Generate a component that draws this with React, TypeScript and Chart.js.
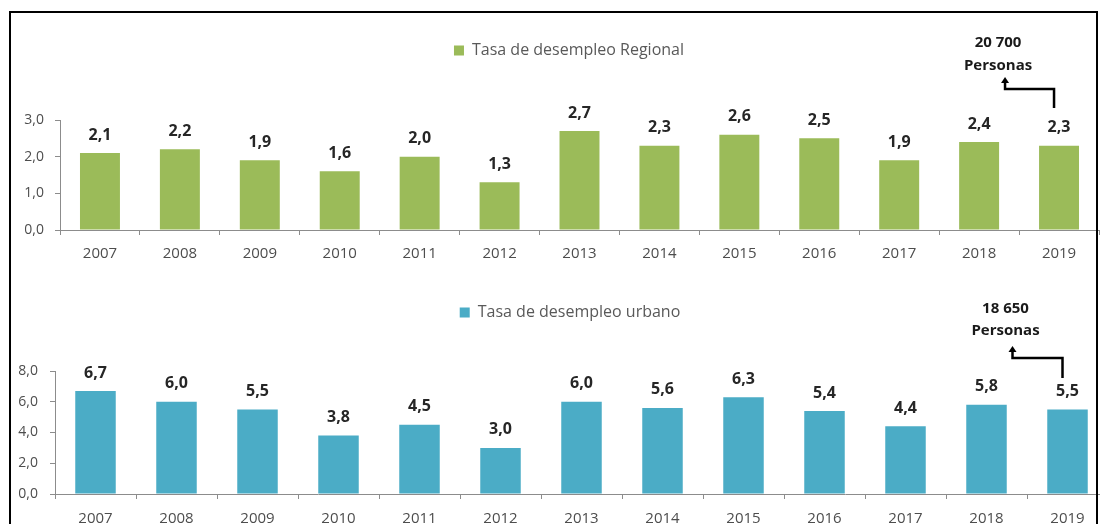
import React, { useEffect, useRef } from "react";
import { Chart, registerables } from "chart.js";

Chart.register(...registerables);

const years = ["2007", "2008", "2009", "2010", "2011", "2012", "2013", "2014", "2015", "2016", "2017", "2018", "2019"];
const regionalRate = [2.1, 2.2, 1.9, 1.6, 2.0, 1.3, 2.7, 2.3, 2.6, 2.5, 1.9, 2.4, 2.3];
const urbanRate = [6.7, 6.0, 5.5, 3.8, 4.5, 3.0, 6.0, 5.6, 6.3, 5.4, 4.4, 5.8, 5.5];
const regionalLabel = "Tasa de desempleo Regional";
const urbanLabel = "Tasa de desempleo urbano";
const regionalNote = ["20 700", "Personas"];
const urbanNote = ["18 650", "Personas"];
const regionalAxis = { max: 3, step: 1 };
const urbanAxis = { max: 8, step: 2 };

const FONT = "'Open Sans', sans-serif";
const fmt = (v: number) => v.toFixed(1).replace(".", ",");

const valueLabels = {
  id: "valueLabels",
  afterDatasetsDraw(chart: any) {
    const { ctx } = chart;
    const meta = chart.getDatasetMeta(0);
    const data = chart.data.datasets[0].data as number[];
    ctx.save();
    ctx.font = `bold 16px ${FONT}`;
    ctx.fillStyle = "#262626";
    ctx.textAlign = "center";
    ctx.textBaseline = "middle";
    meta.data.forEach((bar: any, i: number) => {
      ctx.fillText(fmt(data[i]), bar.x, bar.y - 18);
    });
    ctx.restore();
  },
};

type NoteGeom = {
  textDx: number;
  textY: number[];
  stemDx: number;
  bottom: number;
  elbow: number;
  leftDx: number;
  tip: number;
};

function makeNote(lines: string[], g: NoteGeom) {
  return {
    id: "note",
    afterDraw(chart: any) {
      const { ctx, chartArea } = chart;
      const meta = chart.getDatasetMeta(0);
      const last = meta.data[meta.data.length - 1];
      const x = last.x;
      const t = chartArea.top;
      ctx.save();
      ctx.font = `bold 15px ${FONT}`;
      ctx.fillStyle = "#1a1a1a";
      ctx.textAlign = "center";
      ctx.textBaseline = "middle";
      lines.forEach((s, i) => ctx.fillText(s, x + g.textDx, t + g.textY[i]));
      ctx.strokeStyle = "#000";
      ctx.lineWidth = 2.5;
      ctx.beginPath();
      ctx.moveTo(x + g.stemDx, t + g.bottom);
      ctx.lineTo(x + g.stemDx, t + g.elbow);
      ctx.lineTo(x + g.leftDx, t + g.elbow);
      ctx.lineTo(x + g.leftDx, t + g.tip + 5);
      ctx.stroke();
      ctx.fillStyle = "#000";
      ctx.beginPath();
      ctx.moveTo(x + g.leftDx, t + g.tip);
      ctx.lineTo(x + g.leftDx - 4, t + g.tip + 6);
      ctx.lineTo(x + g.leftDx + 4, t + g.tip + 6);
      ctx.closePath();
      ctx.fill();
      ctx.restore();
    },
  };
}

type PanelCfg = {
  values: number[];
  label: string;
  color: string;
  axis: { max: number; step: number };
  padTop: number;
  spacer: number;
  rightSpacer: number;
  yWidth: number;
  xHeight: number;
  yPad: number;
  xPad: number;
  note: any;
};

function buildChart(canvas: HTMLCanvasElement, c: PanelCfg) {
  const axisColor = "#8c8c8c";
  return new Chart(canvas, {
    type: "bar",
    data: {
      labels: years,
      datasets: [
        {
          label: c.label,
          data: c.values,
          backgroundColor: c.color,
          borderWidth: 0,
          barPercentage: 0.5,
          categoryPercentage: 1,
        },
      ],
    },
    options: {
      responsive: false,
      animation: false,
      events: [],
      layout: { padding: { top: c.padTop, left: 0, right: 0, bottom: 0 } },
      plugins: {
        legend: {
          display: true,
          position: "top",
          weight: 1000,
          labels: {
            boxWidth: 10,
            boxHeight: 10,
            padding: 10,
            color: "#595959",
            font: { family: FONT, size: 16 },
          },
        } as any,
        title: {
          display: true,
          text: "",
          weight: 500,
          font: { size: 1, lineHeight: 1 },
          padding: { top: 0, bottom: c.spacer - 1 },
        } as any,
        subtitle: {
          display: true,
          text: "",
          position: "right",
          fullSize: false,
          font: { size: 1, lineHeight: 1 },
          padding: { top: 0, bottom: c.rightSpacer - 1 },
        } as any,
        tooltip: { enabled: false },
      },
      scales: {
        x: {
          offset: true,
          grid: {
            display: true,
            drawOnChartArea: false,
            drawTicks: true,
            tickLength: 5,
            color: axisColor,
            offset: true,
          },
          border: { display: true, color: axisColor, width: 1 },
          ticks: {
            color: "#4d4d4d",
            padding: c.xPad,
            font: { family: FONT, size: 15 },
            maxRotation: 0,
            autoSkip: false,
          },
          afterFit: (s: any) => {
            s.height = c.xHeight;
          },
        },
        y: {
          min: 0,
          max: c.axis.max,
          grid: {
            display: true,
            drawOnChartArea: false,
            drawTicks: true,
            tickLength: 5,
            color: axisColor,
          },
          border: { display: true, color: axisColor, width: 1 },
          ticks: {
            stepSize: c.axis.step,
            color: "#4d4d4d",
            padding: c.yPad,
            font: { family: FONT, size: 14 },
            callback: (v: any) => fmt(Number(v)),
          },
          afterFit: (s: any) => {
            s.width = c.yWidth;
          },
        },
      },
    },
    plugins: [valueLabels, c.note],
  });
}

export default function App() {
  const topRef = useRef<HTMLCanvasElement>(null);
  const bottomRef = useRef<HTMLCanvasElement>(null);

  useEffect(() => {
    const top = buildChart(topRef.current!, {
      values: regionalRate,
      label: regionalLabel,
      color: "#9BBB59",
      axis: regionalAxis,
      padTop: 32.5,
      spacer: 51.5,
      rightSpacer: 39,
      yWidth: 60,
      xHeight: 40,
      yPad: 11,
      xPad: 10,
      note: makeNote(regionalNote, {
        textDx: -61,
        textY: [-77, -54],
        stemDx: -5,
        bottom: -12,
        elbow: -31,
        leftDx: -54,
        tip: -43,
      }),
    });
    const bottom = buildChart(bottomRef.current!, {
      values: urbanRate,
      label: urbanLabel,
      color: "#4BACC6",
      axis: urbanAxis,
      padTop: 24.5,
      spacer: 40.5,
      rightSpacer: 32,
      yWidth: 55,
      xHeight: 46,
      yPad: 12,
      xPad: 11,
      note: makeNote(urbanNote, {
        textDx: -62,
        textY: [-62, -40],
        stemDx: -5,
        bottom: 7,
        elbow: -13,
        leftDx: -55,
        tip: -25,
      }),
    });
    return () => {
      top.destroy();
      bottom.destroy();
    };
  }, []);

  return (
    <div
      style={{
        position: "absolute",
        left: 0,
        top: 0,
        width: 1100,
        height: 524,
        overflow: "hidden",
        background: "#fff",
      }}
    >
      <canvas ref={topRef} width={1138} height={270} style={{ position: "absolute", left: 0, top: 0 }} />
      <canvas ref={bottomRef} width={1140} height={270} style={{ position: "absolute", left: 0, top: 270 }} />
      <div
        style={{
          position: "absolute",
          left: 9,
          top: 11,
          width: 1089,
          height: 600,
          border: "2px solid #000",
          boxSizing: "border-box",
          pointerEvents: "none",
        }}
      />
    </div>
  );
}
